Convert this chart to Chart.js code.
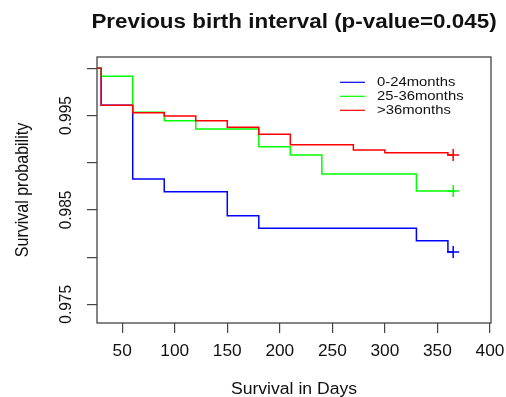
<!DOCTYPE html>
<html>
<head>
<meta charset="utf-8">
<script src="https://cdn.jsdelivr.net/npm/chart.js@4.4.0/dist/chart.umd.min.js"></script>
<style>
html, body { margin: 0; padding: 0; background: #fff; }
</style>
</head>
<body>
<canvas id="km" width="506" height="397"></canvas>
<script>
// Kaplan-Meier curves
var groupNames = ['0-24months', '25-36months', '>36months'];
var groupColors = ['#0000ff', '#00ff00', '#ff0000'];

var daysBlue = [26, 30, 60, 90, 150, 180, 330, 360, 365];
var survBlue = [1.0, 0.9961, 0.98827, 0.98693, 0.98439, 0.98305, 0.98174, 0.98054, 0.98054];

var daysGreen = [26, 30, 60, 90, 120, 180, 210, 240, 330, 365];
var survGreen = [1.0, 0.99915, 0.99534, 0.99445, 0.99357, 0.9917, 0.99082, 0.9888, 0.987, 0.987];

var daysRed = [26, 30, 60, 90, 120, 150, 180, 210, 270, 300, 360, 365];
var survRed = [1.0, 0.9961, 0.9953, 0.99495, 0.99445, 0.99375, 0.99301, 0.99191, 0.99135, 0.99106, 0.99082, 0.99082];

var xTicks = [50, 100, 150, 200, 250, 300, 350, 400];
var yTicks = [0.975, 0.98, 0.985, 0.99, 0.995, 1.0];
var yLabels = ['0.975', '', '0.985', '', '0.995', ''];

function pts(days, surv) {
    return days.map(function(d, i) { return {x: d, y: surv[i]}; });
}

function curve(i, days, surv, order) {
    var last = days.length - 1;
    return {
        label: groupNames[i],
        data: pts(days, surv),
        showLine: true,
        stepped: true,
        borderColor: groupColors[i],
        backgroundColor: groupColors[i],
        borderWidth: 1.5,
        fill: false,
        order: order,
        pointStyle: 'cross',
        pointBorderColor: groupColors[i],
        pointBorderWidth: 1.5,
        pointRadius: function(c) { return c.dataIndex === last ? 6 : 0; },
        pointHoverRadius: 0
    };
}

// stretched text, the picture is a bit wider than tall
function txt(ctx, s, x, y, font, sx, rot, align, base) {
    ctx.save();
    ctx.translate(x, y);
    ctx.scale(sx, 1);
    if (rot) ctx.rotate(rot);
    ctx.font = font;
    ctx.textAlign = align || 'center';
    ctx.textBaseline = base || 'alphabetic';
    ctx.fillText(s, 0, 0);
    ctx.restore();
}

var decor = {
    id: 'decor',
    afterDraw: function(chart) {
        var ctx = chart.ctx, a = chart.chartArea;
        var xs = chart.scales.x, ys = chart.scales.y;
        var fam = '"Liberation Sans", Arial, sans-serif';
        ctx.save();
        ctx.strokeStyle = '#444';
        ctx.lineWidth = 1.3;
        ctx.strokeRect(a.left, a.top, a.right - a.left, a.bottom - a.top);
        ctx.fillStyle = '#111';

        txt(ctx, 'Previous birth interval (p-value=0.045)', (a.left + a.right) / 2, 28,
            'bold 20px ' + fam, 1.12);

        xTicks.forEach(function(v) {
            txt(ctx, String(v), xs.getPixelForValue(v), 352, '16px ' + fam, 1.08, 0, 'center', 'middle');
        });
        yTicks.forEach(function(v, i) {
            if (!yLabels[i]) return;
            txt(ctx, yLabels[i], 70.5, ys.getPixelForValue(v), '15.5px ' + fam, 1.1, -Math.PI / 2, 'center', 'alphabetic');
        });

        txt(ctx, 'Survival in Days', (a.left + a.right) / 2, 394, '16px ' + fam, 1.1);
        txt(ctx, 'Survival probability', 27.5, (a.top + a.bottom) / 2, '16px ' + fam, 1.1, -Math.PI / 2);

        // legend, top right inside the box
        var lx = a.right - 151, ly = a.top + 25.3;
        groupNames.forEach(function(n, i) {
            var y = ly + i * 14;
            ctx.strokeStyle = groupColors[i];
            ctx.lineWidth = 1.2;
            ctx.beginPath();
            ctx.moveTo(lx, y);
            ctx.lineTo(lx + 25, y);
            ctx.stroke();
            txt(ctx, n, lx + 37, y, '13.5px ' + fam, 1.1, 0, 'left', 'middle');
        });
        ctx.restore();
    }
};

var ctx = document.getElementById('km').getContext('2d');
window.kmChart = new Chart(ctx, {
    type: 'scatter',
    data: {
        datasets: [
            curve(0, daysBlue, survBlue, 3),
            curve(1, daysGreen, survGreen, 2),
            curve(2, daysRed, survRed, 1)
        ]
    },
    options: {
        responsive: false,
        animation: false,
        events: [],
        layout: { padding: { left: 0, top: 57, right: 15, bottom: 0 } },
        plugins: {
            legend: { display: false },
            title: { display: false },
            tooltip: { enabled: false }
        },
        scales: {
            x: {
                type: 'linear',
                min: 26,
                max: 401,
                border: { display: false },
                grid: { drawOnChartArea: false, drawTicks: true, tickLength: 10, color: '#444', lineWidth: 1.2 },
                ticks: { display: false },
                afterBuildTicks: function(s) { s.ticks = xTicks.map(function(v) { return {value: v}; }); },
                afterFit: function(s) { s.height = 74; s.paddingLeft = 0; s.paddingRight = 0; }
            },
            y: {
                type: 'linear',
                min: 0.97302,
                max: 1.0012,
                border: { display: false },
                grid: { drawOnChartArea: false, drawTicks: true, tickLength: 10, color: '#444', lineWidth: 1.2 },
                ticks: { display: false },
                afterBuildTicks: function(s) { s.ticks = yTicks.map(function(v) { return {value: v}; }); },
                afterFit: function(s) { s.width = 97; s.paddingTop = 0; s.paddingBottom = 0; }
            }
        }
    },
    plugins: [decor]
});
</script>
</body>
</html>
